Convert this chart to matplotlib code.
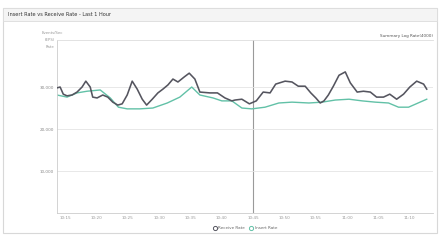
import matplotlib
matplotlib.use("Agg")
from matplotlib import pyplot as plt
from matplotlib.patches import Rectangle
from matplotlib.lines import Line2D
import numpy as np

# minutes from left edge of axis, events/sec
recv_t = [0.0, 0.5, 1.0, 1.6, 2.4, 3.2, 4.0, 4.6, 5.3, 5.7, 6.4, 7.3, 8.1, 8.9,
          9.7, 10.4, 11.2, 12.0, 12.8, 13.6, 14.3, 15.2, 16.1, 16.9, 17.7, 18.5,
          19.3, 20.3, 21.1, 22.0, 22.8, 24.4, 25.6, 26.8, 27.9, 28.4, 29.5, 30.7,
          31.8, 32.9, 34.0, 34.9, 36.4, 37.5, 38.5, 39.6, 40.5, 41.3, 42.0, 42.6,
          43.3, 44.1, 45.0, 46.0, 46.8, 47.9, 48.9, 50.0, 51.0, 52.1, 53.1, 54.2,
          55.3, 56.3, 57.4, 58.5, 59.0]
recv_v = [29800, 30000, 28300, 27900, 28100, 28800, 30000, 31400, 30000, 27600,
          27400, 28100, 27600, 26400, 25700, 26000, 28100, 31400, 29500, 27100,
          25700, 27100, 28600, 29500, 30500, 31900, 31200, 32400, 33300, 31900,
          28800, 28600, 28600, 27400, 26700, 26900, 27100, 26000, 26700, 28800,
          28600, 30700, 31400, 31200, 30200, 30200, 28600, 27400, 26200, 26700,
          28100, 30200, 32800, 33600, 31000, 28800, 29000, 28800, 27600, 27600,
          28300, 27100, 28300, 30000, 31400, 30700, 29500]

ins_t = [0.0, 1.6, 3.2, 4.8, 6.9, 8.5, 9.8, 11.2, 13.2, 15.3, 17.6, 19.6, 21.5,
         22.8, 24.9, 26.3, 27.9, 29.5, 31.1, 33.2, 35.4, 37.5, 40.2, 42.3, 44.4,
         46.6, 48.7, 50.8, 52.9, 54.5, 56.1, 59.0]
ins_v = [28100, 27600, 28600, 29000, 29300, 27400, 25200, 24800, 24800, 25000,
         26200, 27600, 30000, 28100, 27400, 26700, 26700, 25000, 24800, 25200,
         26200, 26400, 26200, 26400, 26900, 27100, 26700, 26400, 26200, 25200,
         25200, 27100]

tick_labels = ["10:15", "10:20", "10:25", "10:30", "10:35", "10:40",
               "10:45", "10:50", "10:55", "11:00", "11:05", "11:10"]
y_ticks = [10000, 20000, 30000]

recv_color = "#55555f"
ins_color = "#62c1a7"

fig = plt.figure(figsize=(4.44, 2.42), dpi=100)
fig.patch.set_facecolor("white")

# outer panel + header bar
fig.add_artist(Rectangle((3/444, 1-233/242), 434/444, 225/242, transform=fig.transFigure,
                         fill=False, edgecolor="#d8d8d8", linewidth=0.8))
fig.add_artist(Rectangle((3/444, 1-21/242), 434/444, 13/242, transform=fig.transFigure,
                         facecolor="#f4f4f4", edgecolor="#dcdcdc", linewidth=0.6))
fig.text(8/444, 1-15/242, "Insert Rate vs Receive Rate - Last 1 Hour", fontsize=3.6,
         color="#333333", va="center", ha="left")

ax = fig.add_axes([57/444, 1-213/242, 376/444, 173/242])
ax.plot(ins_t, ins_v, color=ins_color, linewidth=1.0, zorder=2)
ax.plot(recv_t, recv_v, color=recv_color, linewidth=1.15, zorder=3)
ax.axvline(31.2, color="#9a9a9a", linewidth=0.8, zorder=1)

ax.set_xlim(0, 60)
ax.set_ylim(0, 41200)
ax.set_yticks(y_ticks)
ax.set_yticklabels([f"{v:,}" for v in y_ticks])
ax.set_xticks(np.arange(12) * 5 + 1.3)
ax.set_xticklabels(tick_labels)
ax.tick_params(axis="both", labelsize=3, colors="#888888", length=0, pad=2)
ax.tick_params(axis="x", labelcolor="#999999")
ax.grid(axis="y", color="#e4e4e4", linewidth=0.6)
ax.grid(axis="x", visible=False)
ax.spines["right"].set_visible(False)
ax.spines["top"].set_color("#dddddd")
ax.spines["top"].set_linewidth(0.6)
ax.spines["left"].set_color("#cccccc")
ax.spines["left"].set_linewidth(0.6)
ax.spines["bottom"].set_color("#cccccc")
ax.spines["bottom"].set_linewidth(0.6)

fig.text(52/444, 1-33/242, "Events/Sec", fontsize=2.8, color="#999999", ha="center", va="center")
fig.text(50/444, 1-40/242, "(EPS)", fontsize=2.8, color="#999999", ha="center", va="center")
fig.text(50/444, 1-47/242, "Rate", fontsize=2.8, color="#999999", ha="center", va="center")
fig.text(433/444, 1-36/242, "Summary Log Rate(4000)", fontsize=3, color="#555555",
         ha="right", va="center")

handles = [Line2D([], [], linestyle="none", marker="o", markersize=3, markerfacecolor="white",
                  markeredgecolor=recv_color, markeredgewidth=0.7),
           Line2D([], [], linestyle="none", marker="o", markersize=3, markerfacecolor="white",
                  markeredgecolor=ins_color, markeredgewidth=0.7)]
fig.legend(handles, ["Receive Rate", "Insert Rate"], loc="center",
           bbox_to_anchor=(245/444, 1-228/242), ncol=2, frameon=False, fontsize=3,
           handlelength=0.8, handletextpad=0.4, columnspacing=1.2, labelcolor="#666666")

plt.savefig("out.png", dpi=100)
